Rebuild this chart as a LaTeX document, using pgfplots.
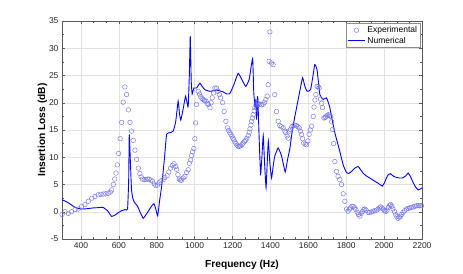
\documentclass[border=0pt]{standalone}
\usepackage{pgfplots}
\pgfplotsset{compat=1.18}
\usepackage{fontspec}
\setmainfont{Liberation Sans}
\definecolor{expc}{RGB}{115,115,235}
\definecolor{gridc}{RGB}{225,225,225}
\begin{document}
\begin{tikzpicture}[x=1pt,y=1pt]
\path[use as bounding box] (-62,-34) rectangle (401,239);
\begin{axis}[
  at={(0,0)}, anchor=south west,
  scale only axis, width=360pt, height=218pt,
  xmin=300, xmax=2200, ymin=-5, ymax=35,
  xtick={400,600,...,2200}, ytick={-5,0,...,35},
  minor x tick num=2, minor y tick num=1,
  grid=major, major grid style={gridc, line width=0.4pt},
  axis line style={black!65, line width=0.5pt},
  tick style={black!65, line width=0.4pt},
  major tick length=3pt, minor tick length=2pt,
  /pgf/number format/assume math mode=true,
  /pgf/number format/1000 sep={},
  tick label style={font=\fontsize{8.5}{9}\selectfont, text=black!85},
  xlabel={\bfseries Frequency (Hz)},
  ylabel={\bfseries Insertion Loss (dB)},
  label style={font=\fontsize{10.2}{11}\selectfont},
  xlabel style={at={(axis description cs:0.5,-0.118)}, anchor=center},
  ylabel style={at={(axis description cs:-0.054,0.5)}, anchor=center, rotate=0},
  legend style={at={(0.995,0.99)}, anchor=north east, draw=black!45, line width=0.4pt,
    font=\fontsize{8.5}{9}\selectfont, inner sep=1pt, row sep=-1pt, fill=white},
  legend cell align=left,
]
\addplot[only marks, mark=o, mark size=2.3pt, draw=expc, mark options={line width=0.45pt}] coordinates {
(300,-0.5)(316,0.0)(333,-0.3)(351,0.0)(369,0.4)(386,0.5)(404,1.0)(421,1.3)(439,1.9)(457,2.5)
(474,2.8)(491,3.1)(505,3.2)(518,3.25)(531,3.3)(544,3.4)(555,3.6)(562,4.0)(571,5.0)(578,6.0)
(585,7.1)(592,8.6)(599,10.7)(607,13.4)(615,16.4)(623,20.1)(632,22.9)(641,21.5)(650,18.7)(659,16.4)
(667,14.8)(676,13.1)(685,11.3)(694,9.6)(703,8.0)(711,7.0)(718,6.4)(725,6.0)(734,5.9)(743,5.9)
(752,6.0)(760,6.0)(769,5.8)(778,5.6)(787,5.1)(795,4.8)(804,4.9)(813,5.3)(822,5.7)(834,5.9)
(843,6.3)(855,6.6)(864,7.3)(873,8.0)(882,8.5)(891,8.8)(900,8.3)(905,7.8)(912,6.8)(919,6.0)
(925,5.8)(931,5.8)(940,6.2)(949,6.5)(958,7.2)(966,7.7)(972,8.9)(979,9.5)(984,10.3)(989,11.0)
(996,11.6)(1001,13.4)(1005,16.3)(1010,19.7)(1019,22.1)(1026,21.6)(1032,21.1)(1039,20.8)(1045,20.6)(1052,20.4)
(1060,20.3)(1066,19.9)(1072,19.7)(1081,19.1)(1087,20.0)(1093,20.9)(1100,21.8)(1107,22.7)(1116,22.7)(1124,22.1)
(1130,21.5)(1137,20.9)(1148,20.0)(1156,18.4)(1165,16.6)(1174,15.4)(1180,14.9)(1186,14.5)(1191,14.2)(1197,13.9)
(1202,13.5)(1207,13.2)(1213,12.8)(1218,12.5)(1224,12.2)(1230,12.0)(1237,12.0)(1243,12.1)(1250,12.3)(1256,12.6)
(1263,12.9)(1270,13.1)(1276,13.5)(1283,14.0)(1288,14.6)(1292,15.2)(1297,15.9)(1301,16.6)(1305,17.2)(1309,17.8)
(1314,18.5)(1318,19.1)(1324,19.6)(1330,20.0)(1337,19.8)(1344,19.7)(1353,19.6)(1362,19.7)(1369,20.1)(1376,20.6)
(1383,21.2)(1388,23.3)(1393,27.6)(1397,33.0)(1406,27.3)(1414,27.0)(1423,21.5)(1432,18.4)(1441,16.6)(1450,15.8)
(1458,15.6)(1467,15.4)(1476,14.8)(1481,14.5)(1488,13.9)(1494,13.5)(1500,14.8)(1506,15.1)(1513,15.6)(1520,15.8)
(1529,15.9)(1538,15.8)(1545,15.6)(1552,15.4)(1558,14.8)(1564,14.2)(1570,13.4)(1576,12.6)(1584,12.4)(1591,12.3)
(1598,13.0)(1604,14.2)(1611,15.0)(1617,15.7)(1626,17.5)(1630,19.2)(1635,20.5)(1640,21.5)(1646,23.0)(1652,23.0)
(1657,22.7)(1664,20.7)(1670,19.9)(1675,19.1)(1682,17.2)(1688,17.3)(1692,17.4)(1698,17.6)(1705,17.8)(1711,17.7)
(1717,17.5)(1723,16.5)(1728,15.1)(1733,12.5)(1740,9.2)(1749,7.4)(1757,6.5)(1766,5.9)(1775,5.0)(1784,3.3)
(1793,1.9)(1802,0.5)(1810,0.1)(1817,0.5)(1823,0.7)(1830,1.0)(1837,1.0)(1844,0.7)(1851,0.4)(1858,-0.1)
(1865,-0.5)(1872,-0.8)(1879,-0.3)(1886,0.05)(1893,0.4)(1898,0.5)(1905,0.3)(1915,-0.1)(1924,-0.1)(1933,-0.05)
(1942,0.1)(1951,0.2)(1960,0.3)(1968,0.5)(1975,0.7)(1981,0.9)(1988,0.7)(1995,0.5)(2002,0.2)(2009,0.05)
(2016,0.3)(2023,0.8)(2030,1.2)(2035,1.3)(2041,1.0)(2047,0.5)(2055,0.0)(2062,-0.55)(2068,-0.9)(2074,-1.2)
(2080,-1.0)(2086,-0.85)(2093,-0.5)(2100,-0.1)(2109,0.2)(2118,0.5)(2127,0.6)(2135,0.7)(2144,0.8)(2153,0.9)
(2162,1.0)(2171,1.1)(2180,1.1)(2188,1.1)(2197,1.1)
};
\addlegendentry{Experimental}
\addplot[blue, line width=0.9pt, mark=none, smooth, tension=0.25] coordinates {
(300,2.2)(320,1.9)(340,1.5)(360,1.0)(377,0.7)(400,0.5)(430,0.55)(464,0.7)(490,0.75)(516,0.8)
(540,0.2)(562,-0.85)(580,-0.6)(596,-0.2)(615,0.2)(632,0.4)(646,0.5)(652,6)(655,14.2)(660,10)
(667,4.0)(675,2.3)(685,1.6)(695,1.2)(703,0.7)(715,-0.3)(729,-1.2)(742,-0.6)(755,0.05)(770,0.9)
(785,1.5)(795,0.5)(805,-0.75)(815,2.0)(826,4.7)(840,9.5)(852,14.2)(870,14.5)(887,14.8)(900,16.5)
(913,20.3)(920,18)(927,16.8)(940,19.0)(952,21.2)(960,20.0)(966,19.3)(972,25)(977,32.2)(982,24)
(987,21.6)(996,22.7)(1010,22.7)(1028,23.6)(1040,23.0)(1054,22.4)(1081,22.1)(1116,22.3)(1150,22.0)(1170,21.6)
(1186,21.7)(1207,23.3)(1230,25.4)(1253,24.0)(1270,23.0)(1288,24.3)(1306,28.1)(1312,22)(1318,19.4)(1323,20.5)
(1327,16.9)(1333,21.2)(1340,14)(1348,6.9)(1355,10)(1362,14.0)(1369,9)(1377,4.4)(1383,9)(1389,13.0)
(1397,9)(1406,6.2)(1415,8.5)(1423,10.2)(1441,11.7)(1459,10.2)(1478,7.3)(1490,9.5)(1503,11.7)(1516,15)
(1529,17.5)(1546,20.5)(1560,23)(1570,24.6)(1582,23)(1594,22.1)(1612,22.4)(1625,25)(1634,27.0)(1646,26.1)
(1661,21.5)(1678,20.6)(1696,20.9)(1713,19.2)(1728,16.5)(1740,14.5)(1766,11.1)(1784,8.6)(1800,7.3)(1812,7.0)
(1828,7.4)(1845,8.0)(1863,8.3)(1876,7.7)(1889,7.1)(1905,6.6)(1924,6.2)(1951,5.6)(1970,5.2)(1991,4.7)
(2003,5.4)(2012,6.2)(2022,6.8)(2033,7.0)(2050,6.5)(2065,6.3)(2080,6.2)(2097,6.2)(2115,6.6)(2127,7.1)
(2140,6.4)(2150,5.6)(2165,4.6)(2179,4.0)(2188,4.1)(2200,4.4)
};
\addlegendentry{Numerical}
\end{axis}
\end{tikzpicture}
\end{document}
